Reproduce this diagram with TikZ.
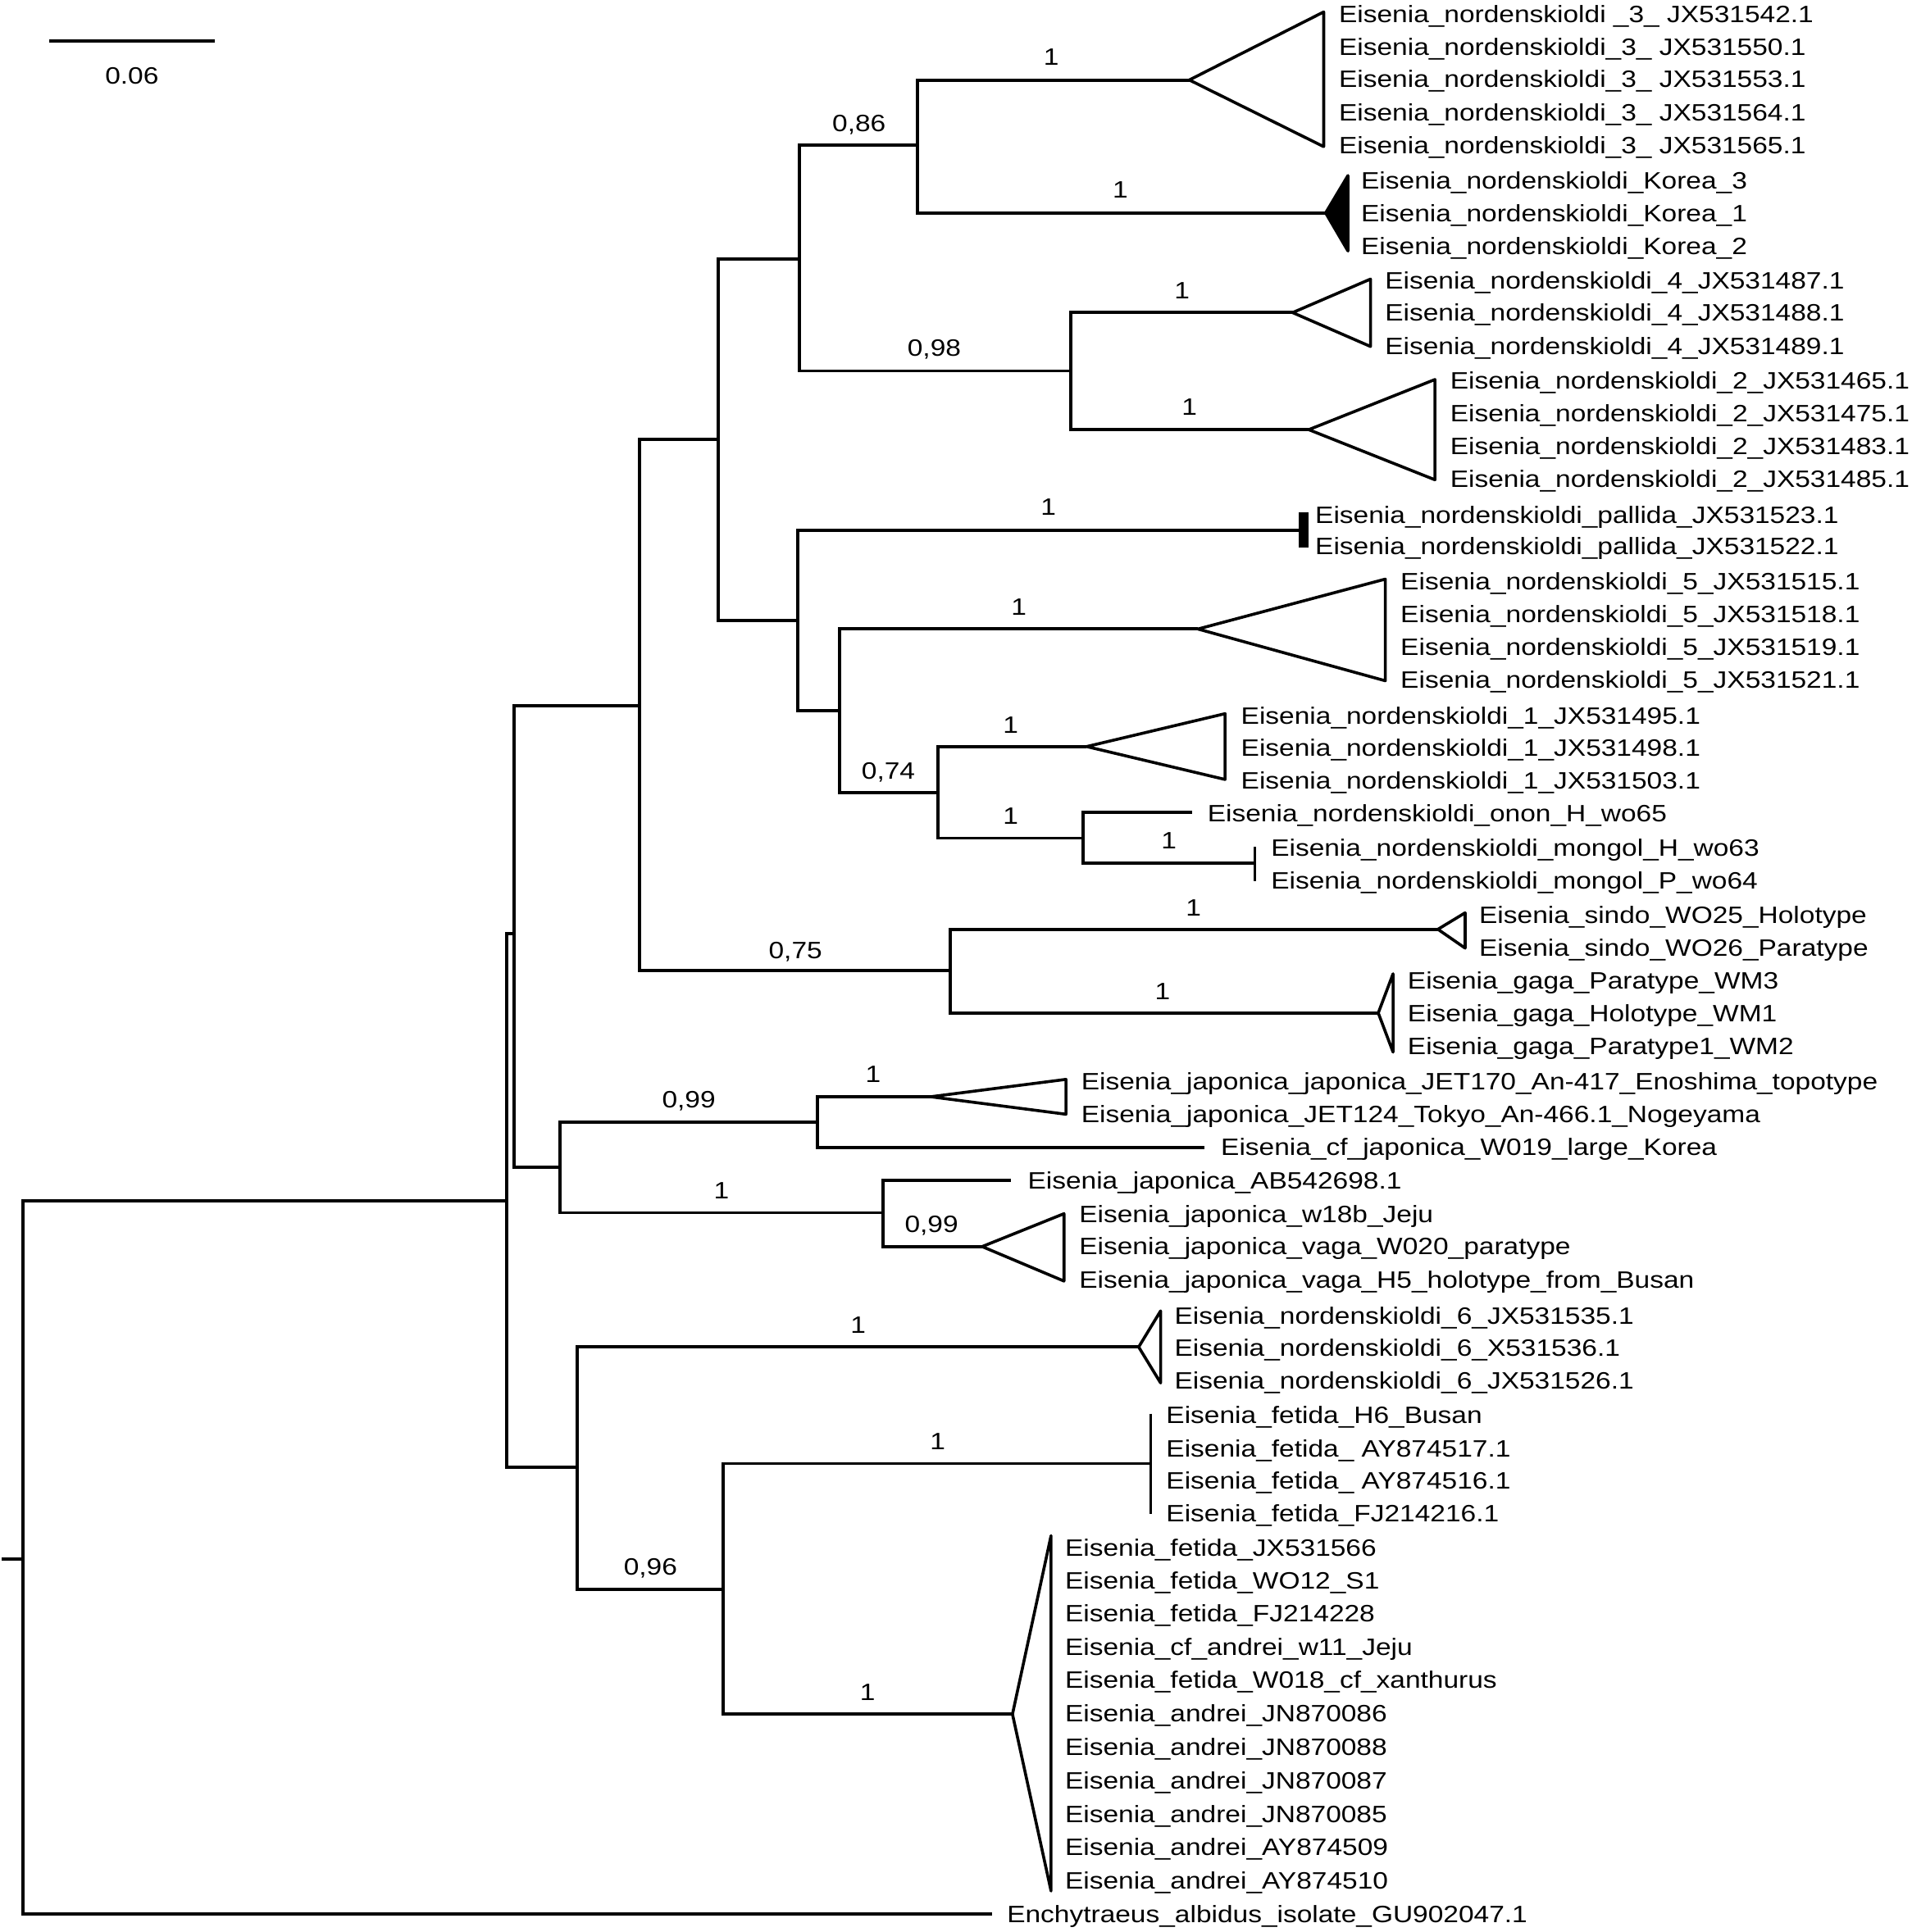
\documentclass[tikz,border=0pt]{standalone}
\usepackage{fontspec}
\setmainfont{Liberation Sans}[FakeStretch=1.16]
\newcommand\lblfont{\fontsize{9.6}{11}\selectfont}
\begin{document}
\begin{tikzpicture}[x=0.5pt,y=-0.5pt,
  br/.style={line width=1.3pt},
  thinbar/.style={line width=0.9pt},
  tri/.style={line width=1.2pt, line join=round},
  lab/.style={anchor=base west, inner sep=0pt, font=\lblfont},
  sup/.style={anchor=base, inner sep=0pt, font=\lblfont}]
\useasboundingbox (0,0) rectangle (1551,1568);

% scale bar
\coordinate (sb1) at (40,33);
\coordinate (sb2) at (174,33);
\draw[br] (sb1) -- (sb2);
\node[sup] (sbl) at (107,68.4) {0.06};

% internal nodes
\coordinate (stub) at (1.5,1265);
\coordinate (R) at (18.8,1265);
\coordinate (A) at (411.3,974.6);
\coordinate (A1) at (417.4,758);
\coordinate (S) at (468.2,1190.5);
\coordinate (C) at (519,573);
\coordinate (D) at (454.5,947.6);
\coordinate (E) at (582.6,356.3);
\coordinate (F) at (771.3,787.7);
\coordinate (G) at (648.8,210);
\coordinate (H) at (647.4,503.3);
\coordinate (I) at (744.4,117.8);
\coordinate (J) at (869,301);
\coordinate (K) at (681,576.6);
\coordinate (L) at (761.2,643.3);
\coordinate (M) at (878.8,680.2);
\coordinate (P) at (663.2,910.7);
\coordinate (Q) at (716.2,984.2);
\coordinate (T) at (586.9,1290);

% tips
\coordinate (tN3) at (965,64.9);
\coordinate (tKor) at (1075.6,172.8);
\coordinate (tN4) at (1048.8,253.7);
\coordinate (tN2) at (1061.9,348.7);
\coordinate (tPal) at (1054,430.3);
\coordinate (tN5) at (972,510.5);
\coordinate (tN1) at (881.7,605.9);
\coordinate (tOnon) at (967,659.3);
\coordinate (tMon) at (1018.3,700.8);
\coordinate (tSin) at (1166.7,754.2);
\coordinate (tGag) at (1118.3,822.1);
\coordinate (tJap) at (755.1,890.1);
\coordinate (tCf) at (977.2,931.6);
\coordinate (tAB) at (820.4,957.8);
\coordinate (tVag) at (796.9,1011.7);
\coordinate (tN6) at (923.9,1093.2);
\coordinate (tFet) at (933.8,1187.8);
\coordinate (tAnd) at (821.5,1391.2);
\coordinate (tEnc) at (804.7,1553.6);

% branches
\draw[br] (stub) -- (R);
\draw[br] (R) |- (A);   \draw[br] (R) |- (tEnc);
\draw[br] (A) |- (A1);  \draw[br] (A) |- (S);
\draw[br] (A1) |- (C);  \draw[br] (A1) |- (D);
\draw[br] (C) |- (E);   \draw[br] (C) |- (F);
\draw[br] (E) |- (G);   \draw[br] (E) |- (H);
\draw[br] (G) |- (I);   \draw[br] (G) |- (J);
\draw[br] (I) |- (tN3); \draw[br] (I) |- (tKor);
\draw[br] (J) |- (tN4); \draw[br] (J) |- (tN2);
\draw[br] (H) |- (tPal); \draw[br] (H) |- (K);
\draw[br] (K) |- (tN5); \draw[br] (K) |- (L);
\draw[br] (L) |- (tN1); \draw[br] (L) |- (M);
\draw[br] (M) |- (tOnon); \draw[br] (M) |- (tMon);
\draw[br] (F) |- (tSin); \draw[br] (F) |- (tGag);
\draw[br] (D) |- (P);   \draw[br] (D) |- (Q);
\draw[br] (P) |- (tJap); \draw[br] (P) |- (tCf);
\draw[br] (Q) |- (tAB); \draw[br] (Q) |- (tVag);
\draw[br] (S) |- (tN6); \draw[br] (S) |- (T);
\draw[br] (T) |- (tFet); \draw[br] (T) |- (tAnd);

% collapsed clades
\draw[tri] (tN3) -- (1074,9.7) -- (1074,119) -- cycle;
\filldraw[tri] (tKor) -- (1093.7,142.5) -- (1093.7,203.7) -- cycle;
\draw[tri] (tN4) -- (1112,226.5) -- (1112,281.2) -- cycle;
\draw[tri] (tN2) -- (1164.3,308) -- (1164.3,389.4) -- cycle;
\fill (1053.5,415.7) rectangle (1062,444.5);
\draw[tri] (tN5) -- (1124,470) -- (1124,552.5) -- cycle;
\draw[tri] (tN1) -- (994,579.2) -- (994,632.6) -- cycle;
\draw[thinbar] (1018.3,687.4) -- (1018.3,715.4);
\draw[tri] (tSin) -- (1188.8,740.8) -- (1188.8,769.5) -- cycle;
\draw[tri] (tGag) -- (1130.3,790.3) -- (1130.3,853.9) -- cycle;
\draw[tri] (tJap) -- (864.9,876) -- (864.9,904.3) -- cycle;
\draw[tri] (tVag) -- (863.3,985) -- (863.3,1039.7) -- cycle;
\draw[tri] (tN6) -- (941.7,1063.9) -- (941.7,1122.4) -- cycle;
\draw[thinbar] (933.8,1147.3) -- (933.8,1228.7);
\draw[tri] (tAnd) -- (852.8,1246.3) -- (852.8,1534.7) -- cycle;

% support values
\node[sup] (s1) at (853,52.6) {1};
\node[sup] (s2) at (697,106.8) {0,86};
\node[sup] (s3) at (909,160.9) {1};
\node[sup] (s4) at (758,289.3) {0,98};
\node[sup] (s5) at (959,242.2) {1};
\node[sup] (s6) at (965,336.9) {1};
\node[sup] (s7) at (850.6,418) {1};
\node[sup] (s8) at (826.7,499.4) {1};
\node[sup] (s9) at (720.8,632) {0,74};
\node[sup] (s10) at (820,594.9) {1};
\node[sup] (s11) at (820,668.8) {1};
\node[sup] (s12) at (948.4,689.1) {1};
\node[sup] (s13) at (968.4,743.7) {1};
\node[sup] (s14) at (645.4,778) {0,75};
\node[sup] (s15) at (943.2,811.1) {1};
\node[sup] (s16) at (708.5,878.5) {1};
\node[sup] (s17) at (558.9,899) {0,99};
\node[sup] (s18) at (585.3,972.7) {1};
\node[sup] (s19) at (755.8,1000.2) {0,99};
\node[sup] (s20) at (696.3,1082.2) {1};
\node[sup] (s21) at (527.8,1278.2) {0,96};
\node[sup] (s22) at (760.9,1176.5) {1};
\node[sup] (s23) at (703.9,1379.8) {1};

% leaf labels
\node[lab] (l1) at (1086,18.2) {Eisenia\_nordenskioldi \_3\_ JX531542.1};
\node[lab] (l2) at (1086,44.9) {Eisenia\_nordenskioldi\_3\_ JX531550.1};
\node[lab] (l3) at (1086,71.1) {Eisenia\_nordenskioldi\_3\_ JX531553.1};
\node[lab] (l4) at (1086,97.8) {Eisenia\_nordenskioldi\_3\_ JX531564.1};
\node[lab] (l5) at (1086,124.6) {Eisenia\_nordenskioldi\_3\_ JX531565.1};
\node[lab] (l6) at (1104,153.1) {Eisenia\_nordenskioldi\_Korea\_3};
\node[lab] (l7) at (1104,180) {Eisenia\_nordenskioldi\_Korea\_1};
\node[lab] (l8) at (1104,206.5) {Eisenia\_nordenskioldi\_Korea\_2};
\node[lab] (l9) at (1123.4,234.5) {Eisenia\_nordenskioldi\_4\_JX531487.1};
\node[lab] (l10) at (1123.4,260.7) {Eisenia\_nordenskioldi\_4\_JX531488.1};
\node[lab] (l11) at (1123.4,288) {Eisenia\_nordenskioldi\_4\_JX531489.1};
\node[lab] (l12) at (1176.3,315.4) {Eisenia\_nordenskioldi\_2\_JX531465.1};
\node[lab] (l13) at (1176.3,342.2) {Eisenia\_nordenskioldi\_2\_JX531475.1};
\node[lab] (l14) at (1176.3,368.9) {Eisenia\_nordenskioldi\_2\_JX531483.1};
\node[lab] (l15) at (1176.3,395.6) {Eisenia\_nordenskioldi\_2\_JX531485.1};
\node[lab] (l16) at (1066.8,424.5) {Eisenia\_nordenskioldi\_pallida\_JX531523.1};
\node[lab] (l17) at (1066.8,450) {Eisenia\_nordenskioldi\_pallida\_JX531522.1};
\node[lab] (l18) at (1136,478.4) {Eisenia\_nordenskioldi\_5\_JX531515.1};
\node[lab] (l19) at (1136,505.2) {Eisenia\_nordenskioldi\_5\_JX531518.1};
\node[lab] (l20) at (1136,531.9) {Eisenia\_nordenskioldi\_5\_JX531519.1};
\node[lab] (l21) at (1136,558.7) {Eisenia\_nordenskioldi\_5\_JX531521.1};
\node[lab] (l22) at (1006.6,587.9) {Eisenia\_nordenskioldi\_1\_JX531495.1};
\node[lab] (l23) at (1006.6,613.4) {Eisenia\_nordenskioldi\_1\_JX531498.1};
\node[lab] (l24) at (1006.6,640.1) {Eisenia\_nordenskioldi\_1\_JX531503.1};
\node[lab] (l25) at (979.4,667.2) {Eisenia\_nordenskioldi\_onon\_H\_wo65};
\node[lab] (l26) at (1030.9,694.8) {Eisenia\_nordenskioldi\_mongol\_H\_wo63};
\node[lab] (l27) at (1030.9,721.6) {Eisenia\_nordenskioldi\_mongol\_P\_wo64};
\node[lab] (l28) at (1199.8,749.1) {Eisenia\_sindo\_WO25\_Holotype};
\node[lab] (l29) at (1199.8,775.7) {Eisenia\_sindo\_WO26\_Paratype};
\node[lab] (l30) at (1141.8,802.8) {Eisenia\_gaga\_Paratype\_WM3};
\node[lab] (l31) at (1141.8,829.1) {Eisenia\_gaga\_Holotype\_WM1};
\node[lab] (l32) at (1141.8,855.8) {Eisenia\_gaga\_Paratype1\_WM2};
\node[lab] (l33) at (876.9,884.3) {Eisenia\_japonica\_japonica\_JET170\_An-417\_Enoshima\_topotype};
\node[lab] (l34) at (876.9,911) {Eisenia\_japonica\_JET124\_Tokyo\_An-466.1\_Nogeyama};
\node[lab] (l35) at (990.3,937.8) {Eisenia\_cf\_japonica\_W019\_large\_Korea};
\node[lab] (l36) at (833.5,965.2) {Eisenia\_japonica\_AB542698.1};
\node[lab] (l37) at (875.3,992) {Eisenia\_japonica\_w18b\_Jeju};
\node[lab] (l38) at (875.3,1018.4) {Eisenia\_japonica\_vaga\_W020\_paratype};
\node[lab] (l39) at (875.3,1045.2) {Eisenia\_japonica\_vaga\_H5\_holotype\_from\_Busan};
\node[lab] (l40) at (952.6,1074.4) {Eisenia\_nordenskioldi\_6\_JX531535.1};
\node[lab] (l41) at (952.6,1100.6) {Eisenia\_nordenskioldi\_6\_X531536.1};
\node[lab] (l42) at (952.6,1127.4) {Eisenia\_nordenskioldi\_6\_JX531526.1};
\node[lab] (l43) at (945.9,1154.9) {Eisenia\_fetida\_H6\_Busan};
\node[lab] (l44) at (945.9,1182.3) {Eisenia\_fetida\_ AY874517.1};
\node[lab] (l45) at (945.9,1208.7) {Eisenia\_fetida\_ AY874516.1};
\node[lab] (l46) at (945.9,1234.9) {Eisenia\_fetida\_FJ214216.1};
\node[lab] (l47) at (863.8,1262.8) {Eisenia\_fetida\_JX531566};
\node[lab] (l48) at (863.8,1289.5) {Eisenia\_fetida\_WO12\_S1};
\node[lab] (l49) at (863.8,1316) {Eisenia\_fetida\_FJ214228};
\node[lab] (l50) at (863.8,1343.6) {Eisenia\_cf\_andrei\_w11\_Jeju};
\node[lab] (l51) at (863.8,1370.3) {Eisenia\_fetida\_W018\_cf\_xanthurus};
\node[lab] (l52) at (863.8,1397.4) {Eisenia\_andrei\_JN870086};
\node[lab] (l53) at (863.8,1424.4) {Eisenia\_andrei\_JN870088};
\node[lab] (l54) at (863.8,1451.7) {Eisenia\_andrei\_JN870087};
\node[lab] (l55) at (863.8,1479) {Eisenia\_andrei\_JN870085};
\node[lab] (l56) at (863.8,1506.1) {Eisenia\_andrei\_AY874509};
\node[lab] (l57) at (863.8,1533.1) {Eisenia\_andrei\_AY874510};
\node[lab] (l58) at (816.7,1560.4) {Enchytraeus\_albidus\_isolate\_GU902047.1};
\end{tikzpicture}
\end{document}
